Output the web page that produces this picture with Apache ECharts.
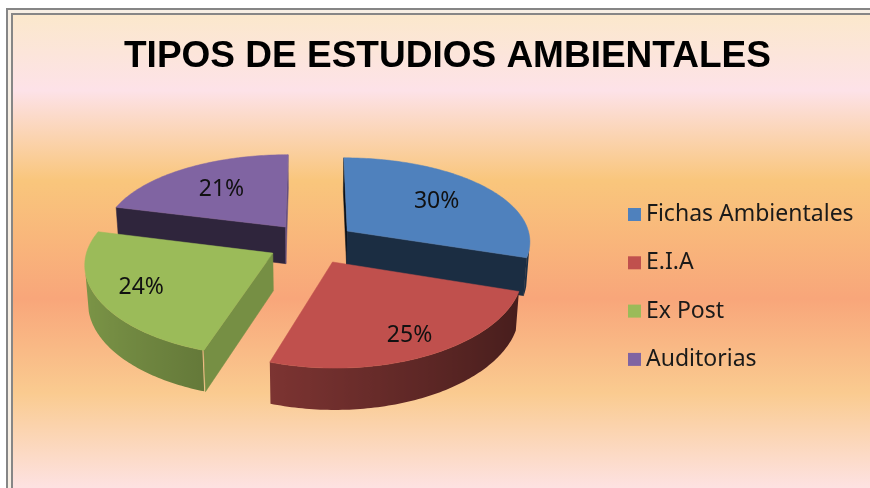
<!DOCTYPE html>
<html>
<head>
<meta charset="utf-8">
<title>Tipos de estudios ambientales</title>
<script src="https://cdn.jsdelivr.net/npm/echarts@6/dist/echarts.min.js"></script>
<style>
body{margin:0;background:#fff;}
#chart{width:870px;height:488px;}
</style>
</head>
<body>
<div id="chart"></div>
<script>

const names = ['Fichas Ambientales', 'E.I.A', 'Ex Post', 'Auditorias']
const values = [30, 25, 24, 21]
const topColors = ['#4f81bd', '#c0504d', '#9bbb59', '#8064a2']

// 3d view of the pie (camera looking down on the disc)
const cx = 312, cy = 243
const scaleX = 184, scaleY = 180
const tilt = 28.6 * Math.PI / 180
const distX = 8
const distY = 6.5
const explode = 0.24
const thick = 0.24

const total = values.reduce((a, b) => a + b, 0)
const slices = []
let start = 90
for (let i = 0; i < values.length; i++) {
  const sweep = values[i] / total * 360
  slices.push({ a0: start, a1: start - sweep, mid: start - sweep / 2 })
  start -= sweep
}

const cam = [0, distY * Math.sin(tilt), distY * Math.cos(tilt)]

function rad(d) { return d * Math.PI / 180 }

function project(x, y, z) {
  const ys = z * Math.sin(tilt) - y * Math.cos(tilt)
  const depth = z * Math.cos(tilt) + y * Math.sin(tilt)
  return [cx + scaleX * x / (1 - depth / distX), cy + scaleY * ys / (1 - depth / distY)]
}

function shade(hex, f) {
  const n = parseInt(hex.slice(1), 16)
  const r = Math.round(((n >> 16) & 255) * f)
  const g = Math.round(((n >> 8) & 255) * f)
  const b = Math.round((n & 255) * f)
  return `rgb(${r},${g},${b})`
}

function offsetOf(i) {
  const m = rad(slices[i].mid)
  return [explode * Math.cos(m), -explode * Math.sin(m)]
}

function facing(nDeg, px, pz) {
  const nx = Math.cos(rad(nDeg)), nz = -Math.sin(rad(nDeg))
  return nx * (cam[0] - px) + nz * (cam[2] - pz) > 0
}

function renderSlice(i) {
  const s = slices[i]
  const color = topColors[i]
  const [ox, oz] = offsetOf(i)
  const pt = (deg, r, y) => project(ox + r * Math.cos(rad(deg)), y, oz - r * Math.sin(rad(deg)))
  const children = []

  // outer wall, only the part turned to the camera
  const vis = []
  for (let t = s.a1; t <= s.a0 + 0.001; t += 1) {
    const th = Math.min(t, s.a0)
    if (facing(th, ox + Math.cos(rad(th)), oz - Math.sin(rad(th)))) vis.push(th)
  }
  if (vis.length > 1) {
    const topArc = vis.map(t => pt(t, 1, 0))
    const botArc = vis.map(t => pt(t, 1, -thick)).reverse()
    const xs = topArc.map(p => p[0])
    const minX = Math.min(...xs), maxX = Math.max(...xs)
    const stops = vis.map((t, k) => ({
      offset: (xs[k] - minX) / (maxX - minX || 1),
      color: shade(color, 0.58 - 0.22 * Math.cos(rad(t)))
    })).sort((a, b) => a.offset - b.offset)
    children.push({
      type: 'polygon',
      shape: { points: topArc.concat(botArc) },
      style: {
        fill: { type: 'linear', x: minX, y: 0, x2: maxX, y2: 0, global: true, colorStops: stops },
        stroke: null
      }
    })
  }

  // radial cut faces
  const cuts = [[s.a0, s.a0 + 90], [s.a1, s.a1 - 90]]
  cuts.forEach(([edge, n]) => {
    if (!facing(n, ox, oz)) return
    const f = 0.45 + 0.33 * Math.cos(rad(n))
    children.push({
      type: 'polygon',
      shape: { points: [pt(edge, 0, 0), pt(edge, 1, 0), pt(edge, 1, -thick), pt(edge, 0, -thick)] },
      style: { fill: shade(color, f), stroke: shade(color, f), lineWidth: 0.5 }
    })
  })

  // top face
  const top = [pt(0, 0, 0)]
  for (let t = s.a0; t >= s.a1 - 0.001; t -= 1) top.push(pt(Math.max(t, s.a1), 1, 0))
  top.push(pt(s.a1, 1, 0))
  children.push({
    type: 'polygon',
    shape: { points: top },
    style: { fill: color, stroke: color, lineWidth: 0.5 }
  })

  // label sits further out on the front slices
  const lp = pt(s.mid, 0.71 - 0.11 * Math.sin(rad(s.mid)), 0)
  children.push({
    type: 'text',
    style: {
      text: values[i] + '%', x: lp[0], y: lp[1],
      fill: '#111', font: '23px "Noto Sans"', align: 'center', verticalAlign: 'middle'
    }
  })

  return { type: 'group', children: children }
}

// draw the slices that sit further back first
const order = values.map((v, i) => i).sort((a, b) => offsetOf(a)[1] - offsetOf(b)[1])

const series = values.map((v, i) => ({
  type: 'custom',
  name: names[i],
  coordinateSystem: 'none',
  z: 2 + order.indexOf(i),
  itemStyle: { color: topColors[i] },
  data: [v],
  renderItem: () => renderSlice(i)
}))

const chart = echarts.init(document.getElementById('chart'))

chart.setOption({
  animation: false,
  graphic: [
    { type: 'rect', shape: { x: 6, y: 8, width: 900, height: 600 }, style: { fill: '#868686' }, z: 0 },
    { type: 'rect', shape: { x: 8, y: 10, width: 900, height: 600 }, style: { fill: '#f7efe4' }, z: 0 },
    { type: 'rect', shape: { x: 11, y: 13, width: 900, height: 600 }, style: { fill: '#868686' }, z: 0 },
    {
      type: 'rect', shape: { x: 13, y: 15, width: 900, height: 473 }, z: 0,
      style: {
        fill: {
          type: 'linear', x: 0, y: 0, x2: 0, y2: 1,
          colorStops: [
            { offset: 0, color: '#fbe8cc' },
            { offset: 0.16, color: '#fde2e8' },
            { offset: 0.35, color: '#f9c67c' },
            { offset: 0.6, color: '#f8a67a' },
            { offset: 0.8, color: '#facb90' },
            { offset: 1, color: '#fde2e2' }
          ]
        }
      }
    }
  ],
  title: {
    text: 'TIPOS DE ESTUDIOS AMBIENTALES',
    left: 119,
    top: 33,
    textStyle: { fontFamily: 'Liberation Sans', fontWeight: 'bold', fontSize: 37, color: '#000' }
  },
  legend: {
    data: names,
    orient: 'vertical',
    left: 628,
    top: 203,
    padding: 0,
    itemWidth: 13,
    itemHeight: 13,
    itemGap: 25.3,
    itemTextGap: 8,
    icon: 'rect',
    selectedMode: false,
    textStyle: { fontFamily: 'Noto Sans', fontSize: 23, color: '#1a1a1a' }
  },
  series: series
})

</script>
</body>
</html>
